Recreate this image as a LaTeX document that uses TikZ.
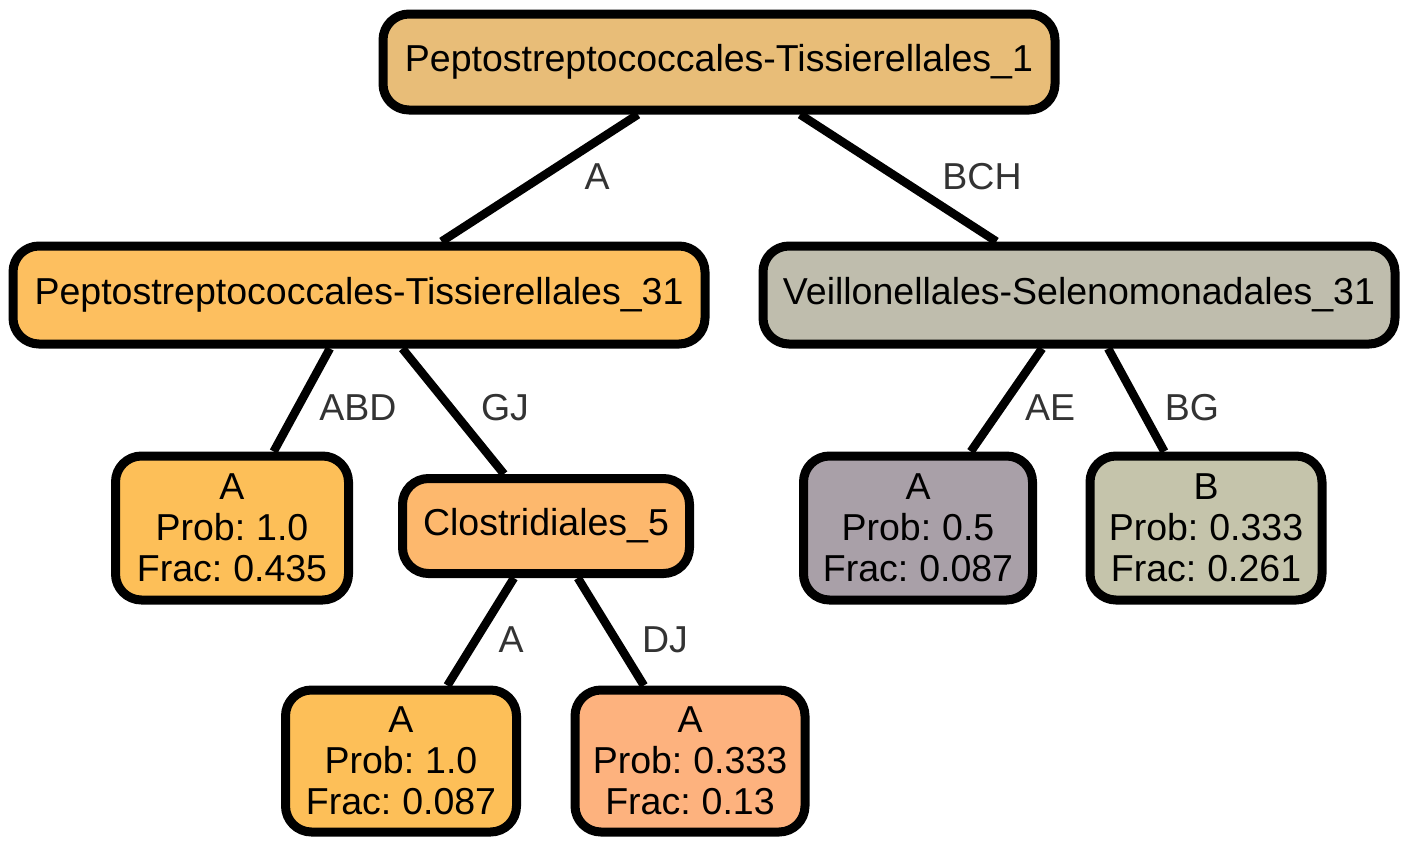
\documentclass[tikz,border=0pt]{standalone}
\usepackage{fontspec}
\setmainfont{Liberation Sans}
\newcommand\myboxfont{\fontsize{37.5}{41}\selectfont\spaceskip=0.2em plus 0.05em\relax}
\begin{document}
\begin{tikzpicture}[x=1pt,y=-1pt,
  box/.style={draw=black, line width=9pt, rounded corners=26pt, inner sep=0pt, align=center,
    font=\myboxfont},
  edge/.style={draw=black, line width=8.5pt},
  elab/.style={text=black!80, font=\fontsize{37.5}{41}\selectfont, inner sep=0pt}]
\useasboundingbox (0,0) rectangle (1410,846);
\definecolor{cRoot}{HTML}{E8BD78}
\definecolor{cPT}{HTML}{FDBF5F}
\definecolor{cVS}{HTML}{BFBDAD}
\definecolor{cLeafO}{HTML}{FDBF58}
\definecolor{cClos}{HTML}{FDB86D}
\definecolor{cLeafP}{HTML}{A9A0A8}
\definecolor{cLeafG}{HTML}{C5C4AB}
\definecolor{cLeafS}{HTML}{FDB27E}

\node[box, fill=cRoot, minimum width=672pt, minimum height=96pt] (root) at (719,62) {Peptostreptococcales-Tissierellales\_1};
\node[box, fill=cPT, minimum width=692pt, minimum height=98pt] (pt) at (359,295) {Peptostreptococcales-Tissierellales\_31};
\node[box, fill=cVS, minimum width=632pt, minimum height=98pt] (vs) at (1079,295) {Veillonellales-Selenomonadales\_31};
\node[box, fill=cLeafO, minimum width=233pt, minimum height=144pt] (l1) at (232,528) {A\\Prob: 1.0\\Frac: 0.435};
\node[box, fill=cClos, minimum width=287pt, minimum height=95pt] (cl) at (546,526) {Clostridiales\_5};
\node[box, fill=cLeafP, minimum width=229pt, minimum height=144pt] (l2) at (918,528) {A\\Prob: 0.5\\Frac: 0.087};
\node[box, fill=cLeafG, minimum width=232pt, minimum height=144pt] (l3) at (1206,528) {B\\Prob: 0.333\\Frac: 0.261};
\node[box, fill=cLeafO, minimum width=231pt, minimum height=142pt] (l4) at (401,761) {A\\Prob: 1.0\\Frac: 0.087};
\node[box, fill=cLeafS, minimum width=230pt, minimum height=142pt] (l5) at (690,761) {A\\Prob: 0.333\\Frac: 0.13};

\draw[edge] (root) -- (pt);
\draw[edge] (root) -- (vs);
\draw[edge] (pt) -- (l1);
\draw[edge] (pt) -- (cl);
\draw[edge] (vs) -- (l2);
\draw[edge] (vs) -- (l3);
\draw[edge] (cl) -- (l4);
\draw[edge] (cl) -- (l5);

\node[elab] (eA) at (597,177) {A};
\node[elab] (eBCH) at (982,177) {BCH};
\node[elab] (eABD) at (358,408) {ABD};
\node[elab] (eGJ) at (505,408) {GJ};
\node[elab] (eAE) at (1050,408) {AE};
\node[elab] (eBG) at (1192,408) {BG};
\node[elab] (eA2) at (511,640) {A};
\node[elab] (eDJ) at (665,640) {DJ};
\end{tikzpicture}
\end{document}
